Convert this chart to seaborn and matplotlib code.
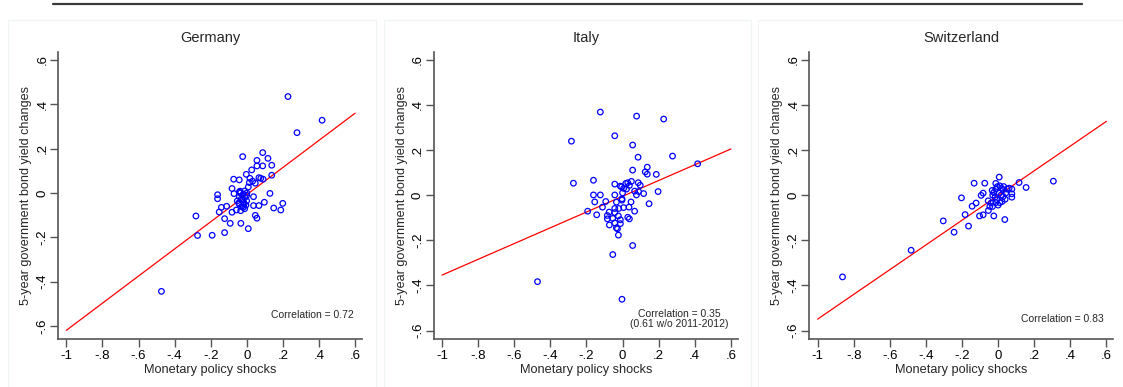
import numpy as np
import pandas as pd
import matplotlib
matplotlib.use("Agg")
import matplotlib.pyplot as plt
from matplotlib.patches import Rectangle
from matplotlib.lines import Line2D
import seaborn as sns

# ---------------- data ----------------
countries = ["Germany", "Italy", "Switzerland"]

germany_x = [0.228, 0.417, 0.278, -0.023, 0.088, 0.056, 0.117, 0.056, 0.088, 0.138,
             0.027, -0.003, -0.073, -0.042, 0.017, 0.014, 0.032, 0.047, 0.067, 0.077,
             0.090, 0.138, 0.008, -0.082, -0.071, -0.042, -0.012, 0.128, -0.162, -0.162,
             -0.001, 0.037, -0.042, -0.053, -0.031, -0.018, -0.001, -0.042, -0.029, -0.012,
             -0.034, -0.058, -0.141, -0.112, -0.153, -0.082, 0.037, 0.067, 0.097, 0.199,
             0.149, 0.188, 0.047, 0.056, -0.123, -0.092, -0.033, -0.282, -0.273, -0.192,
             -0.123, 0.008, -0.473, -0.020, -0.035, -0.010, -0.025, -0.045, -0.005, -0.020,
             0.000, -0.038, -0.015]
germany_y = [0.435, 0.328, 0.272, 0.164, 0.182, 0.147, 0.156, 0.122, 0.122, 0.125,
             0.104, 0.084, 0.062, 0.059, 0.066, 0.047, 0.053, 0.044, 0.069, 0.066,
             0.062, 0.080, 0.027, 0.020, -0.003, 0.003, 0.009, -0.002, -0.008, -0.026,
             -0.011, -0.017, -0.017, -0.036, -0.027, -0.042, -0.036, -0.050, -0.062, -0.071,
             -0.080, -0.077, -0.065, -0.060, -0.086, -0.087, -0.057, -0.057, -0.042, -0.047,
             -0.068, -0.077, -0.101, -0.114, -0.116, -0.137, -0.137, -0.104, -0.192, -0.191,
             -0.179, -0.161, -0.444, -0.005, 0.000, -0.020, -0.030, -0.045, -0.055, -0.065,
             0.000, 0.008, -0.050]

italy_x = [-0.123, 0.078, 0.228, -0.043, -0.283, 0.056, 0.086, 0.277, 0.416, 0.056,
           0.137, 0.126, 0.137, 0.187, -0.272, -0.161, -0.043, -0.012, -0.005, 0.018,
           0.029, 0.049, 0.038, 0.006, 0.022, 0.000, 0.087, 0.098, 0.067, 0.077,
           0.089, 0.117, 0.197, -0.161, -0.123, -0.043, -0.154, -0.093, -0.034, -0.003,
           -0.003, 0.047, 0.147, -0.193, -0.143, -0.111, -0.074, -0.084, -0.084, -0.043,
           -0.043, -0.021, 0.006, 0.036, 0.067, -0.054, -0.043, -0.023, -0.012, -0.012,
           -0.034, -0.028, -0.073, 0.029, 0.038, -0.023, 0.056, -0.054, -0.471, -0.003]
italy_y = [0.368, 0.350, 0.337, 0.263, 0.239, 0.222, 0.168, 0.173, 0.139, 0.111,
           0.124, 0.103, 0.093, 0.092, 0.053, 0.066, 0.049, 0.040, 0.037, 0.052,
           0.055, 0.061, 0.043, 0.030, 0.027, 0.010, 0.055, 0.044, 0.018, 0.001,
           0.016, 0.007, 0.016, 0.001, 0.001, 0.001, -0.030, -0.028, -0.031, -0.016,
           -0.022, -0.030, -0.038, -0.071, -0.087, -0.053, -0.075, -0.090, -0.105, -0.059,
           -0.077, -0.059, -0.055, -0.053, -0.071, -0.103, -0.123, -0.092, -0.109, -0.126,
           -0.145, -0.149, -0.132, -0.098, -0.105, -0.177, -0.223, -0.263, -0.383, -0.461]

switzerland_x = [0.306, -0.862, -0.482, -0.304, -0.244, -0.164, -0.183, -0.103, -0.083, -0.024,
                 0.037, -0.203, -0.144, -0.122, -0.133, -0.074, -0.094, -0.083, -0.013, 0.006,
                 0.116, 0.155, 0.076, 0.076, 0.076, -0.055, -0.054, -0.046, -0.031,
                 -0.033, -0.024, -0.013, -0.004, 0.009, 0.018, 0.028, 0.006, -0.017, -0.006,
                 0.009, 0.000, 0.022, 0.028, 0.042, 0.050, 0.061, -0.030, 0.017, 0.031,
                 -0.013, -0.039, 0.039]
switzerland_y = [0.062, -0.362, -0.244, -0.114, -0.164, -0.137, -0.086, -0.092, -0.087, -0.092,
                 -0.108, -0.012, -0.049, -0.035, 0.053, 0.053, -0.001, 0.009, 0.052, 0.080,
                 0.056, 0.034, 0.027, 0.006, -0.009, -0.025, -0.068, -0.050, -0.050,
                 0.021, 0.012, 0.027, 0.038, 0.041, 0.031, 0.024, 0.009, -0.009, -0.021,
                 -0.033, -0.044, -0.028, -0.006, 0.009, 0.027, 0.031, 0.000, 0.001, 0.038,
                 -0.033, -0.035, -0.018]

# fitted lines: intercept, slope
fit_intercept = [-0.0075, -0.005, -0.0015]
fit_slope = [0.6125, 0.349, 0.5475]

correlation_text = ["Correlation = 0.72",
                    "Correlation = 0.35\n(0.61 w/o 2011-2012)",
                    "Correlation = 0.83"]

x_ticks = [-1, -0.8, -0.6, -0.4, -0.2, 0, 0.2, 0.4, 0.6]
x_tick_labels = ["-1", "-.8", "-.6", "-.4", "-.2", "0", ".2", ".4", ".6"]
y_ticks = [-0.6, -0.4, -0.2, 0, 0.2, 0.4, 0.6]
y_tick_labels = ["-.6", "-.4", "-.2", "0", ".2", ".4", ".6"]

xs = [germany_x, italy_x, switzerland_x]
ys = [germany_y, italy_y, switzerland_y]

# ---------------- style ----------------
sns.set_theme(style="ticks")
plt.rcParams["font.family"] = ["Liberation Sans", "DejaVu Sans"]

W, H = 1123, 387
fig = plt.figure(figsize=(W / 100, H / 100), dpi=100)

# top rule
fig.add_artist(Line2D([53 / W, 1082 / W], [1 - 4 / H, 1 - 4 / H],
                      color="#3a3a3a", lw=1.6, transform=fig.transFigure))

panel_left = [8, 383.5, 758]
axes_left = [58, 433.7, 809.3]
ylims = [(-0.659, 0.636), (-0.637, 0.634), (-0.637, 0.634)]
corr_pos = [(0.59, -0.55, "right"), (0.3125, -0.548, "center"), (0.585, -0.549, "right")]

for i, c in enumerate(countries):
    # faint panel border
    fig.add_artist(Rectangle((panel_left[i] / W, -0.05), 368 / W, (1 - 20 / H) + 0.05,
                             transform=fig.transFigure, fill=False,
                             edgecolor="#eef3f3", lw=0.8))
    ax = fig.add_axes([axes_left[i] / W, (H - 339) / H, 304 / W, 287 / H])
    df = pd.DataFrame({"shock": xs[i], "yield": ys[i]})
    sns.scatterplot(data=df, x="shock", y="yield", ax=ax, marker="o", s=16,
                    facecolors="none", edgecolor="#0000ff", linewidth=0.9, zorder=3)
    lx = np.array([min(x_ticks), max(x_ticks)])
    ldf = pd.DataFrame({"shock": lx, "fit": fit_intercept[i] + fit_slope[i] * lx})
    sns.lineplot(data=ldf, x="shock", y="fit", ax=ax, color="#ff0000", lw=0.9, zorder=2)

    ax.set_xlim(-1.046, 0.638)
    ax.set_ylim(*ylims[i])
    ax.set_xticks(x_ticks)
    ax.set_xticklabels(x_tick_labels)
    ax.set_yticks(y_ticks)
    ax.set_yticklabels(y_tick_labels, rotation=90, va="center")
    ax.tick_params(axis="both", length=6, width=1.0, color="#555555",
                   labelsize=9.5, labelcolor="black", pad=2)
    ax.tick_params(axis="y", pad=1)
    for s in ["top", "right"]:
        ax.spines[s].set_visible(False)
    for s in ["left", "bottom"]:
        ax.spines[s].set_color("#555555")
        ax.spines[s].set_linewidth(1.2)
    ax.set_xlabel("Monetary policy shocks", fontsize=9.2, labelpad=1)
    ax.set_ylabel("5-year government bond yield changes", fontsize=9.1, labelpad=3)
    ax.set_title(c, fontsize=10.5, pad=7)
    cx, cy, ha = corr_pos[i]
    ax.text(cx, cy, correlation_text[i], fontsize=7.5, ha=ha, va="center",
            linespacing=1.05)
    ax.patch.set_alpha(0)

fig.savefig("out.png", dpi=100)
